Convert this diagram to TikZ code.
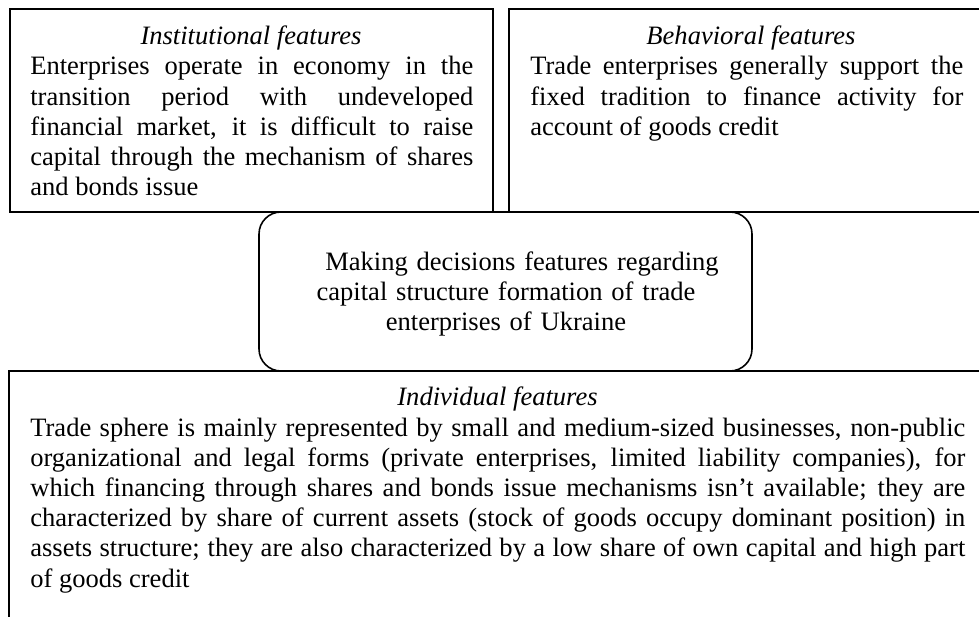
\documentclass[tikz,border=0pt]{standalone}
\usepackage{fontspec}
\setmainfont{Liberation Serif}
\hyphenpenalty=10000
\exhyphenpenalty=10000
\tolerance=9999

\begin{document}
\begin{tikzpicture}[scale=1.0,
    box/.style={line width=0.9pt},
    txt/.style={font={\fontsize{15.1}{17.2}\selectfont}, inner sep=0pt},
    heading/.style={txt, font={\fontsize{15.1}{17.2}\selectfont\itshape}, anchor=base},
    body/.style={txt, align=justify, anchor=base west}
]
    \useasboundingbox (0,0) rectangle (19.58,12.32);

    % Institutional features
    \draw[box] (0.2,12.14) rectangle (9.86,8.08);
    \node[heading] (insthead) at (5.02,11.42) {Institutional features};
    \node[body, text width=8.86cm] (insttext) at (0.6,10.82) {Enterprises operate in economy in the\linebreak
        transition period with undeveloped\linebreak
        financial market, it is difficult to raise\linebreak
        capital through the mechanism of shares\linebreak
        and bonds issue};

    % Behavioral features
    \draw[box] (10.18,12.14) rectangle (19.9,8.08);
    \node[heading] (behhead) at (15.02,11.42) {Behavioral features};
    \node[body, text width=8.66cm] (behtext) at (10.6,10.82) {Trade enterprises generally support the\linebreak
        fixed tradition to finance activity for\linebreak
        account of goods credit};

    % Central decision box
    \draw[box, rounded corners=0.44cm] (5.18,8.08) rectangle (15.04,4.9);
    \node[txt, text width=10cm, align=center, anchor=base] (decision) at (10.12,6.92)
        {\hspace*{0.64cm}Making decisions features regarding\\
        capital structure formation of trade\\
        enterprises of Ukraine};

    % Individual features
    \draw[box] (0.18,4.9) rectangle (19.9,-0.2);
    \node[heading] (indhead) at (9.95,4.22) {Individual features};
    \node[body, text width=18.7cm] (indtext) at (0.6,3.6) {Trade sphere is mainly represented by small and medium-sized businesses, non-public\linebreak
        organizational and legal forms (private enterprises, limited liability companies), for\linebreak
        which financing through shares and bonds issue mechanisms isn’t available; they are\linebreak
        characterized by share of current assets (stock of goods occupy dominant position) in\linebreak
        assets structure; they are also characterized by a low share of own capital and high part\linebreak
        of goods credit};
\end{tikzpicture}
\end{document}
